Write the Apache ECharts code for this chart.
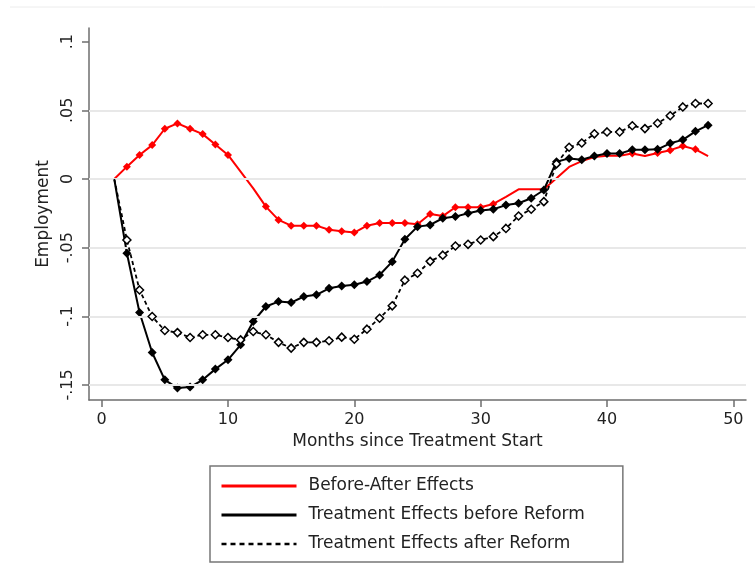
<!DOCTYPE html>
<html>
<head>
<meta charset="utf-8">
<script src="https://cdn.jsdelivr.net/npm/echarts@6/dist/echarts.min.js"></script>
<style>
html,body{margin:0;padding:0;background:#fff;}
#chart{width:755px;height:574px;}
</style>
</head>
<body>
<div id="chart"></div>
<script>
// ---- data ----
const months = [1,2,3,4,5,6,7,8,9,10,11,12,13,14,15,16,17,18,19,20,21,22,23,24,25,26,27,28,29,30,31,32,33,34,35,36,37,38,39,40,41,42,43,44,45,46,47,48];
const beforeAfter = [0,0.009,0.0175,0.0247,0.0366,0.0405,0.0366,0.0327,0.0252,0.0175,0.0053,-0.0068,-0.0201,-0.0298,-0.034,-0.034,-0.034,-0.037,-0.038,-0.039,-0.034,-0.032,-0.032,-0.032,-0.033,-0.0255,-0.027,-0.0206,-0.0206,-0.0206,-0.0182,-0.013,-0.0075,-0.0075,-0.0075,0.0005,0.0088,0.013,0.016,0.017,0.017,0.0185,0.0167,0.019,0.021,0.024,0.0216,0.0167];
const teBefore = [0,-0.0541,-0.0973,-0.1264,-0.1463,-0.1523,-0.1516,-0.1463,-0.1385,-0.1317,-0.1208,-0.1038,-0.0929,-0.0893,-0.090,-0.0856,-0.0844,-0.0796,-0.0779,-0.0771,-0.0747,-0.0699,-0.0602,-0.0439,-0.0347,-0.0335,-0.0286,-0.0274,-0.025,-0.023,-0.022,-0.019,-0.0177,-0.014,-0.008,0.0126,0.015,0.014,0.0168,0.0185,0.0185,0.0213,0.0213,0.0216,0.026,0.0285,0.0347,0.0392];
const teAfter = [0,-0.0444,-0.0808,-0.1002,-0.1104,-0.1119,-0.1155,-0.1135,-0.1135,-0.1155,-0.1172,-0.1111,-0.1135,-0.119,-0.1232,-0.119,-0.119,-0.1178,-0.1152,-0.1167,-0.1094,-0.1014,-0.0924,-0.0737,-0.0687,-0.060,-0.0555,-0.0488,-0.0476,-0.0444,-0.042,-0.036,-0.027,-0.022,-0.0165,0.011,0.0231,0.0262,0.0329,0.0343,0.0343,0.0388,0.0367,0.0406,0.0461,0.0525,0.055,0.055];
// months where no marker is drawn
const beforeAfterNoMarker = [1,11,12,32,33,34,35,36,37,38,39,40,41,43,48];
const teBeforeNoMarker = [1];
const teAfterNoMarker = [1];
const xTicks = [0,10,20,30,40,50];
const yTicks = [-0.15,-0.1,-0.05,0,0.05,0.1];
const yTickLabels = {'-0.15':'-.15','-0.1':'-.1','-0.05':'-.05','0':'0','0.05':'.05','0.1':'.1'};
const gridYs = [-0.15,-0.1,-0.05,0,0.05];
const names = ['Before-After Effects','Treatment Effects before Reform','Treatment Effects after Reform'];

const FONT = 'DejaVu Sans';

function build(vals, noMarker) {
  return months.map((m, i) => {
    const item = { value: [m, vals[i]] };
    if (noMarker.indexOf(m) >= 0) item.symbol = 'none';
    return item;
  });
}

const chart = echarts.init(document.getElementById('chart'), null, { renderer: 'canvas' });

const hidden = { color: 'rgba(0,0,0,0)', borderColor: 'rgba(0,0,0,0)', borderWidth: 0, opacity: 0 };
const legendLines = [
  { color: '#ff0000', width: 3, type: 'solid' },
  { color: '#000000', width: 3, type: 'solid' },
  { color: '#000000', width: 2.5, type: [5, 4] }
];

const option = {
  backgroundColor: '#ffffff',
  animation: false,
  grid: { left: 89, right: 9, top: 28, bottom: 174, containLabel: false },
  xAxis: {
    type: 'value', min: -1, max: 51,
    name: 'Months since Treatment Start', nameLocation: 'middle', nameGap: 33,
    nameTextStyle: { fontFamily: FONT, fontSize: 17, color: '#222' },
    axisLine: { show: true, onZero: false, lineStyle: { color: '#6e6e6e', width: 1.5 } },
    axisTick: { show: true, customValues: xTicks, length: 7, lineStyle: { color: '#6e6e6e', width: 1.5 } },
    axisLabel: { customValues: xTicks, margin: 12, fontFamily: FONT, fontSize: 16, color: '#222' },
    splitLine: { show: false }
  },
  yAxis: {
    type: 'value', min: -0.161, max: 0.11,
    name: 'Employment', nameLocation: 'middle', nameGap: 33, nameRotate: 90,
    nameTextStyle: { fontFamily: FONT, fontSize: 17, color: '#222' },
    axisLine: { show: true, onZero: false, lineStyle: { color: '#6e6e6e', width: 1.5 } },
    axisTick: { show: true, customValues: yTicks, length: 7, lineStyle: { color: '#6e6e6e', width: 1.5 } },
    axisLabel: {
      customValues: yTicks, rotate: 90, margin: 13, fontFamily: FONT, fontSize: 16, color: '#222',
      formatter: v => { const k = String(Math.round(v * 100) / 100); return yTickLabels[k] !== undefined ? yTickLabels[k] : k; }
    },
    splitLine: { show: false }
  },
  legend: {
    orient: 'vertical', left: 210, top: 466,
    data: names.map((n, i) => ({ name: n, lineStyle: legendLines[i], itemStyle: hidden })),
    itemWidth: 75, itemHeight: 14, itemGap: 9,
    padding: [10, 38, 8, 10],
    borderColor: '#777', borderWidth: 1.5,
    itemStyle: hidden,
    textStyle: { fontFamily: FONT, fontSize: 17, color: '#222', lineHeight: 20, padding: [0, 0, 0, 7] },
    selectedMode: false
  },
  graphic: [
    { type: 'line', shape: { x1: 10, y1: 7, x2: 755, y2: 7 }, style: { stroke: '#ececec', lineWidth: 1 } }
  ],
  series: [
    {
      name: 'grid', type: 'line', data: [], z: 1, silent: true,
      markLine: {
        silent: true, symbol: 'none', label: { show: false },
        lineStyle: { color: '#e8e8e8', width: 2, type: 'solid' },
        data: gridYs.map(v => ({ yAxis: v }))
      }
    },
    {
      name: 'ba', type: 'line', z: 3, data: build(beforeAfter, beforeAfterNoMarker),
      symbol: 'diamond', symbolSize: 8, showAllSymbol: true,
      lineStyle: { color: '#ff0000', width: 2 }, itemStyle: { color: '#ff0000' }
    },
    {
      name: 'teb', type: 'line', z: 4, data: build(teBefore, teBeforeNoMarker),
      symbol: 'diamond', symbolSize: 9, showAllSymbol: true,
      lineStyle: { color: '#000000', width: 2 }, itemStyle: { color: '#000000' }
    },
    {
      name: 'tea', type: 'line', z: 5, data: build(teAfter, teAfterNoMarker),
      symbol: 'diamond', symbolSize: 8, showAllSymbol: true,
      lineStyle: { color: '#000000', width: 1.8, type: [4, 3] },
      itemStyle: { color: '#ffffff', borderColor: '#000000', borderWidth: 1.5 }
    },
    { name: names[0], type: 'line', data: [], symbol: 'none', lineStyle: legendLines[0], itemStyle: hidden },
    { name: names[1], type: 'line', data: [], symbol: 'none', lineStyle: legendLines[1], itemStyle: hidden },
    { name: names[2], type: 'line', data: [], symbol: 'none', lineStyle: legendLines[2], itemStyle: hidden }
  ]
};
chart.setOption(option);
</script>
</body>
</html>
